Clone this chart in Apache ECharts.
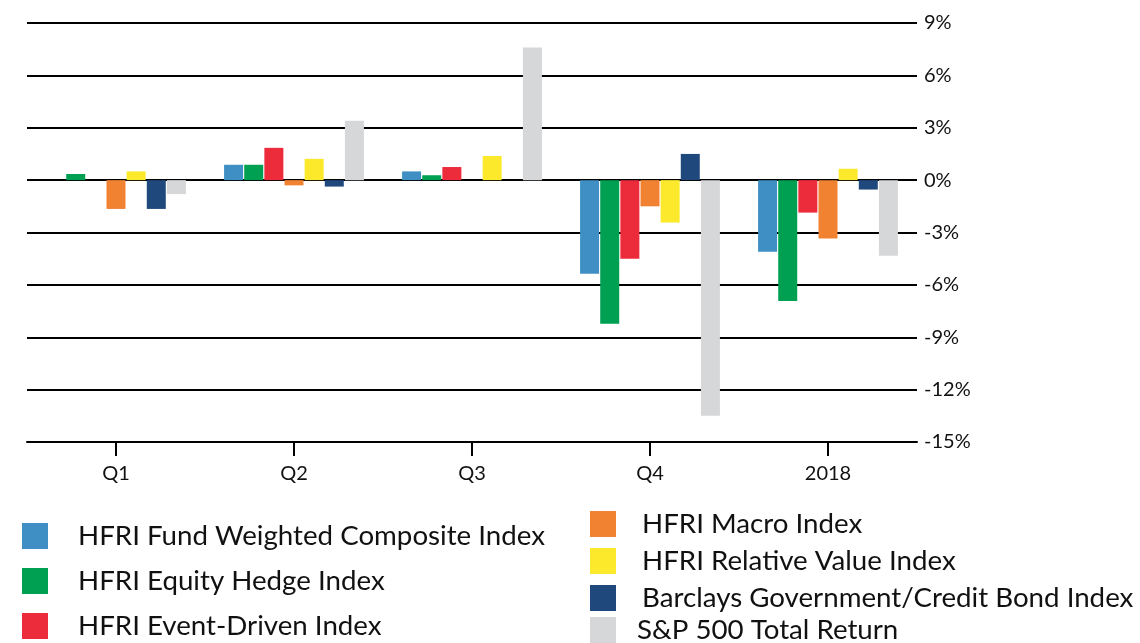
<!DOCTYPE html>
<html>
<head>
<meta charset="utf-8">
<script src="https://cdn.jsdelivr.net/npm/echarts@6/dist/echarts.min.js"></script>
<style>
  html, body { margin: 0; padding: 0; background: #fff; }
  #chart { width: 1140px; height: 643px; }
</style>
</head>
<body>
<div id="chart"></div>
<script>
const categories = ['Q1', 'Q2', 'Q3', 'Q4', '2018']

const seriesNames = [
  'HFRI Fund Weighted Composite Index',
  'HFRI Equity Hedge Index',
  'HFRI Event-Driven Index',
  'HFRI Macro Index',
  'HFRI Relative Value Index',
  'Barclays Government/Credit Bond Index',
  'S&P 500 Total Return'
]

const fundWeighted = [0, 0.88, 0.5, -5.36, -4.1]
const equityHedge = [0.35, 0.88, 0.28, -8.23, -6.93]
const eventDriven = [0, 1.85, 0.75, -4.5, -1.86]
const macro = [-1.65, -0.3, 0, -1.5, -3.35]
const relativeValue = [0.5, 1.22, 1.38, -2.43, 0.65]
const barclays = [-1.65, -0.37, 0, 1.5, -0.54]
const sp500 = [-0.8, 3.4, 7.6, -13.5, -4.33]

const colors = ['#3f8fc4', '#00a052', '#ec2b3b', '#f08232', '#fde92b', '#1f497d', '#d6d7d9']
const values = [fundWeighted, equityHedge, eventDriven, macro, relativeValue, barclays, sp500]

const chart = echarts.init(document.getElementById('chart'))

const legendText = {
  fontFamily: 'Lato',
  fontSize: 27.7,
  lineHeight: 26,
  color: '#111',
}

// common legend bits
const legendBase = {
  orient: 'vertical',
  padding: 0,
  itemWidth: 26,
  itemHeight: 26,
  icon: 'rect'
}

const option = {
  animation: false,
  textStyle: { fontFamily: 'Lato' },
  grid: {
    left: 27,
    right: 223,
    top: 23,
    bottom: 201
  },
  legend: [
    {
      ...legendBase,
      left: 22,
      top: 522,
      itemGap: 17,
      textStyle: { ...legendText, padding: [0, 0, 0, 25] },
      data: seriesNames.slice(0, 3)
    },
    {
      ...legendBase,
      left: 590,
      top: 510,
      itemGap: 9,
      textStyle: { ...legendText, padding: [0, 0, 0, 21] },
      data: seriesNames.slice(3, 6)
    },
    {
      ...legendBase,
      left: 590,
      top: 616,
      textStyle: { ...legendText, padding: [0, 0, 0, 16] },
      data: seriesNames.slice(6)
    }
  ],
  xAxis: {
    type: 'category',
    data: categories,
    axisLine: { onZero: false, lineStyle: { color: '#000', width: 2 } },
    axisTick: { show: true, alignWithLabel: true, length: 14, lineStyle: { color: '#000', width: 2 } },
    axisLabel: { margin: 22, fontSize: 20, color: '#111', fontFamily: 'Lato' }
  },
  yAxis: {
    type: 'value',
    position: 'right',
    min: -15,
    max: 9,
    interval: 3,
    axisLine: { show: false },
    axisTick: { show: false },
    splitLine: { lineStyle: { color: '#000', width: 2 } },
    axisLabel: { formatter: '{value}%', margin: 7, fontSize: 20, color: '#111', fontFamily: 'Lato' }
  },
  series: seriesNames.map((name, i) => ({
    name: name,
    type: 'bar',
    data: values[i],
    barWidth: 19,
    barGap: '6%',
    itemStyle: { color: colors[i] }
  }))
}

chart.setOption(option)
</script>
</body>
</html>
